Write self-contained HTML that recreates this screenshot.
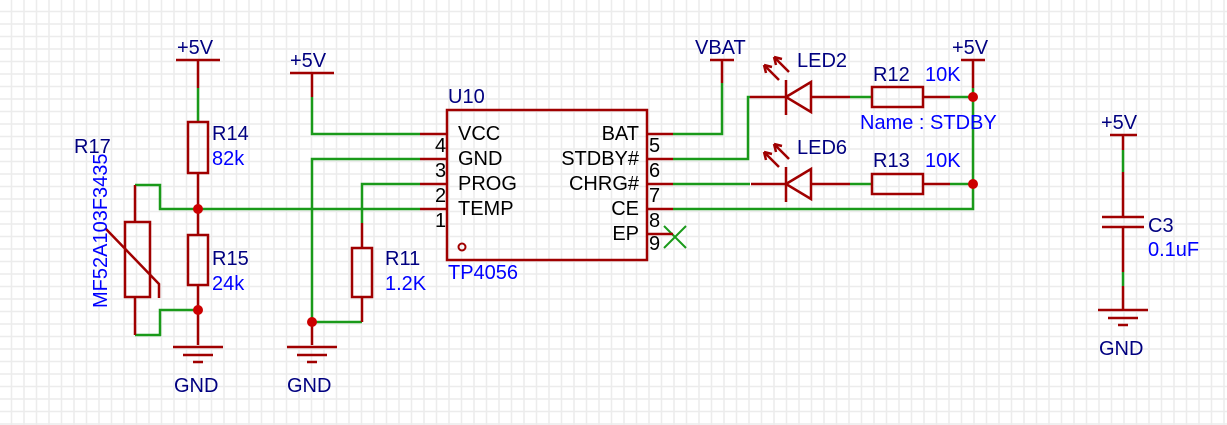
<!DOCTYPE html>
<html><head><meta charset="utf-8"><style>
html,body{margin:0;padding:0;background:#fff}
svg{display:block}
text{font-family:"Liberation Sans",sans-serif;font-size:20px}
.n{fill:#000080}.b{fill:#0000ff}.k{fill:#000}
</style></head><body>
<svg width="1227" height="425" viewBox="0 0 1227 425" xmlns="http://www.w3.org/2000/svg">
<defs><pattern id="g" x="10.5" y="10.5" width="12.5" height="12.5" patternUnits="userSpaceOnUse"><path d="M1 0V12.5M0 1H12.5" fill="none" stroke="#ececec" stroke-width="1.5"/></pattern></defs>
<rect width="1227" height="425" fill="url(#g)"/>
<g fill="none" stroke-width="2.5">
<g stroke="#1a9a1a">
<path d="M312 97V134H420"/>
<path d="M420 159H312V322H362"/>
<path d="M420 184H362V223"/>
<path d="M420 209H160V185H135"/>
<path d="M198 88V122"/>
<path d="M135 335H160V310H198"/>
<path d="M673 134H722V83"/>
<path d="M673 159H748V97H750"/>
<path d="M850 97H872M950 97H973"/>
<path d="M673 184H750M850 184H872M950 184H973"/>
<path d="M673 209H973V88"/>
<path d="M1123 150V172M1123 272V286"/>
<path d="M664 226L686 248M686 226L664 248" stroke-width="2"/>
</g>
<g stroke="#a00000">
<rect x="447" y="110" width="200" height="150"/>
<path d="M420 134H447M420 159H447M420 184H447M420 209H447"/>
<path d="M647 134H673M647 159H673M647 184H673M647 209H673M647 234H673"/>
<circle cx="462" cy="247" r="3.5" stroke-width="2"/>
<path d="M176 60H220M198 60V88"/>
<path d="M290 73H334M312 73V97"/>
<rect x="188" y="122" width="20" height="51"/>
<path d="M198 173V235"/>
<rect x="188" y="235" width="20" height="50"/>
<path d="M198 285V345"/>
<path d="M173 347H223M183 355H213M193 362H203"/>
<path d="M135 185V222"/>
<rect x="125" y="222" width="25" height="75"/>
<path d="M135 297V335"/>
<path d="M105 228L159 284V298"/>
<rect x="352" y="248" width="20" height="49"/>
<path d="M362 223V248M362 297V322"/>
<path d="M312 322V345"/>
<path d="M287 347H337M297 355H327M307 362H317"/>
<path d="M710 60H734M722 60V83"/>
<path d="M750 97H786M786 80V115M786 97L811 82V112Z M811 97H850"/>
<rect x="872" y="87" width="51" height="20"/>
<path d="M923 97H950"/>
<path d="M751 184H786M786 167V202M786 184L811 169V199Z M811 184H850"/>
<rect x="872" y="174" width="51" height="20"/>
<path d="M923 184H950"/>
<path d="M961 60H985M973 60V88"/>
<path d="M779 80L764 65M764 65L766 73M764 65L772 67"/>
<path d="M789 72L774 57M774 57L776 65M774 57L782 59"/>
<path d="M779 167L764 152M764 152L766 160M764 152L772 154"/>
<path d="M789 159L774 144M774 144L776 152M774 144L782 146"/>
<path d="M1110 135H1137M1123 135V150M1123 172V217"/>
<path d="M1102 217H1144M1102 227H1144"/>
<path d="M1123 227V272M1123 286V310"/>
<path d="M1098 310H1148M1108 318H1138M1118 325H1128"/>
</g>
</g>
<g fill="#cc0000">
<circle cx="198" cy="209" r="5"/><circle cx="198" cy="310" r="5"/>
<circle cx="312" cy="322" r="5"/><circle cx="973" cy="97" r="5"/><circle cx="973" cy="184" r="5"/>
</g>
<g class="n">
<text x="177" y="54">+5V</text><text x="290" y="67">+5V</text>
<text x="695" y="54">VBAT</text><text x="952" y="54">+5V</text><text x="1101" y="129">+5V</text>
<text x="174" y="392">GND</text><text x="287" y="392">GND</text><text x="1099" y="355">GND</text>
<text x="74" y="153">R17</text><text x="212" y="140">R14</text><text x="212" y="265">R15</text>
<text x="385" y="265">R11</text><text x="448" y="103">U10</text>
<text x="797" y="67">LED2</text><text x="797" y="154">LED6</text>
<text x="873" y="81">R12</text><text x="873" y="167">R13</text>
<text x="1148" y="232">C3</text>
</g>
<g class="b">
<text x="212" y="165">82k</text><text x="212" y="290">24k</text><text x="385" y="290">1.2K</text>
<text x="448" y="279">TP4056</text>
<text x="925" y="81">10K</text><text x="925" y="167">10K</text>
<text x="860" y="129">Name : STDBY</text>
<text x="1148" y="256">0.1uF</text>
<text transform="translate(107,308) rotate(-90)">MF52A103F3435</text>
</g>
<g class="k">
<text x="458" y="140">VCC</text><text x="458" y="165">GND</text><text x="458" y="190">PROG</text><text x="458" y="215">TEMP</text>
<text x="639" y="140" text-anchor="end">BAT</text><text x="639" y="165" text-anchor="end">STDBY#</text>
<text x="639" y="190" text-anchor="end">CHRG#</text><text x="639" y="215" text-anchor="end">CE</text><text x="639" y="240" text-anchor="end">EP</text>
<text x="435" y="152">4</text><text x="435" y="177">3</text><text x="435" y="202">2</text><text x="435" y="227">1</text>
<text x="649" y="152">5</text><text x="649" y="177">6</text><text x="649" y="202">7</text><text x="649" y="227">8</text><text x="649" y="250">9</text>
</g>
</svg>
</body></html>
